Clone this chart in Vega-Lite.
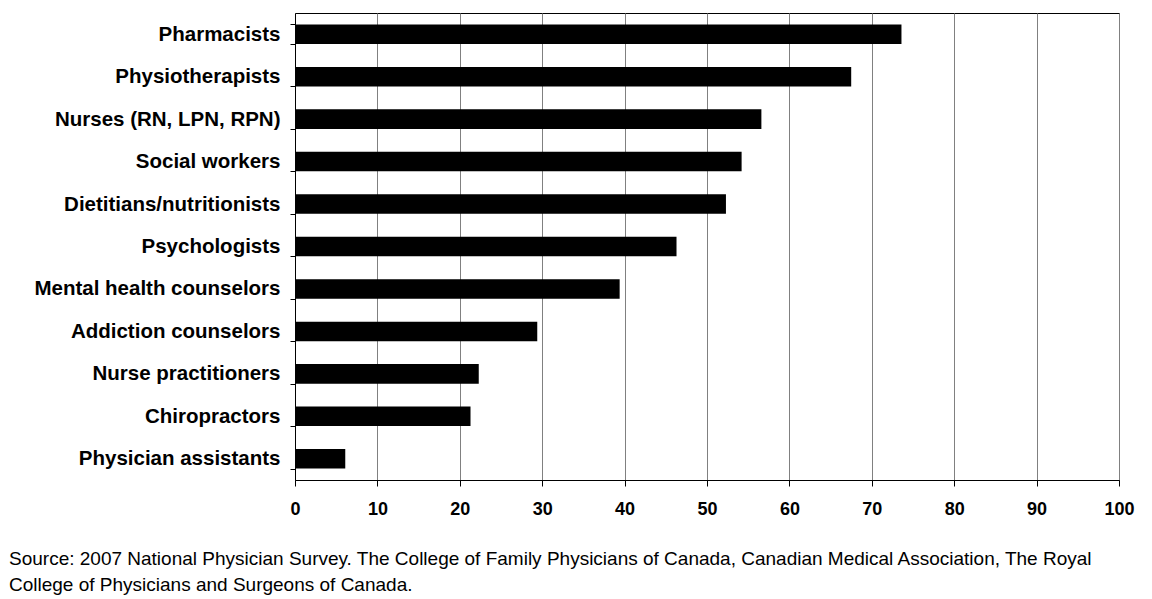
{
  "$schema": "https://vega.github.io/schema/vega-lite/v6.json",
  "autosize": {"type": "none"},
  "padding": {"left": 295, "top": 13, "right": 33, "bottom": 119},
  "width": 824,
  "height": 467,
  "background": "white",
  "data": {
    "values": [
      {"profession": "Pharmacists", "percent": 73.6},
      {"profession": "Physiotherapists", "percent": 67.5},
      {"profession": "Nurses (RN, LPN, RPN)", "percent": 56.6},
      {"profession": "Social workers", "percent": 54.2},
      {"profession": "Dietitians/nutritionists", "percent": 52.3},
      {"profession": "Psychologists", "percent": 46.3},
      {"profession": "Mental health counselors", "percent": 39.4},
      {"profession": "Addiction counselors", "percent": 29.4},
      {"profession": "Nurse practitioners", "percent": 22.3},
      {"profession": "Chiropractors", "percent": 21.3},
      {"profession": "Physician assistants", "percent": 6.1}
    ]
  },
  "title": {
    "text": [
      "Source: 2007 National Physician Survey. The College of Family Physicians of Canada, Canadian Medical Association, The Royal",
      "College of Physicians and Surgeons of Canada."
    ],
    "orient": "bottom",
    "anchor": "start",
    "frame": "group",
    "dx": -286,
    "offset": 32,
    "font": "Liberation Sans",
    "fontSize": 19,
    "fontWeight": "normal",
    "color": "#000000",
    "lineHeight": 26,
    "baseline": "top"
  },
  "mark": {"type": "bar", "color": "#000000"},
  "encoding": {
    "y": {
      "field": "profession",
      "type": "nominal",
      "sort": null,
      "scale": {"paddingInner": 0.54, "paddingOuter": 0.27},
      "axis": {
        "title": null,
        "tickBand": "extent",
        "tickSize": 5,
        "tickColor": "#000000",
        "domainColor": "#000000",
        "labelFont": "Liberation Sans",
        "labelFontSize": 20.5,
        "labelFontWeight": "bold",
        "labelColor": "#000000",
        "labelPadding": 10,
        "labelLimit": 400
      }
    },
    "x": {
      "field": "percent",
      "type": "quantitative",
      "scale": {"domain": [0, 100], "nice": false},
      "axis": {
        "title": null,
        "values": [0, 10, 20, 30, 40, 50, 60, 70, 80, 90, 100],
        "grid": true,
        "gridColor": "#808080",
        "gridOpacity": 1,
        "gridWidth": 1,
        "tickSize": 6,
        "tickColor": "#000000",
        "domainColor": "#000000",
        "labelFont": "Liberation Sans",
        "labelFontSize": 18,
        "labelFontWeight": "bold",
        "labelColor": "#000000",
        "labelPadding": 14,
        "labelFlush": false
      }
    }
  },
  "config": {
    "view": {"stroke": "#000000", "strokeWidth": 1}
  }
}
